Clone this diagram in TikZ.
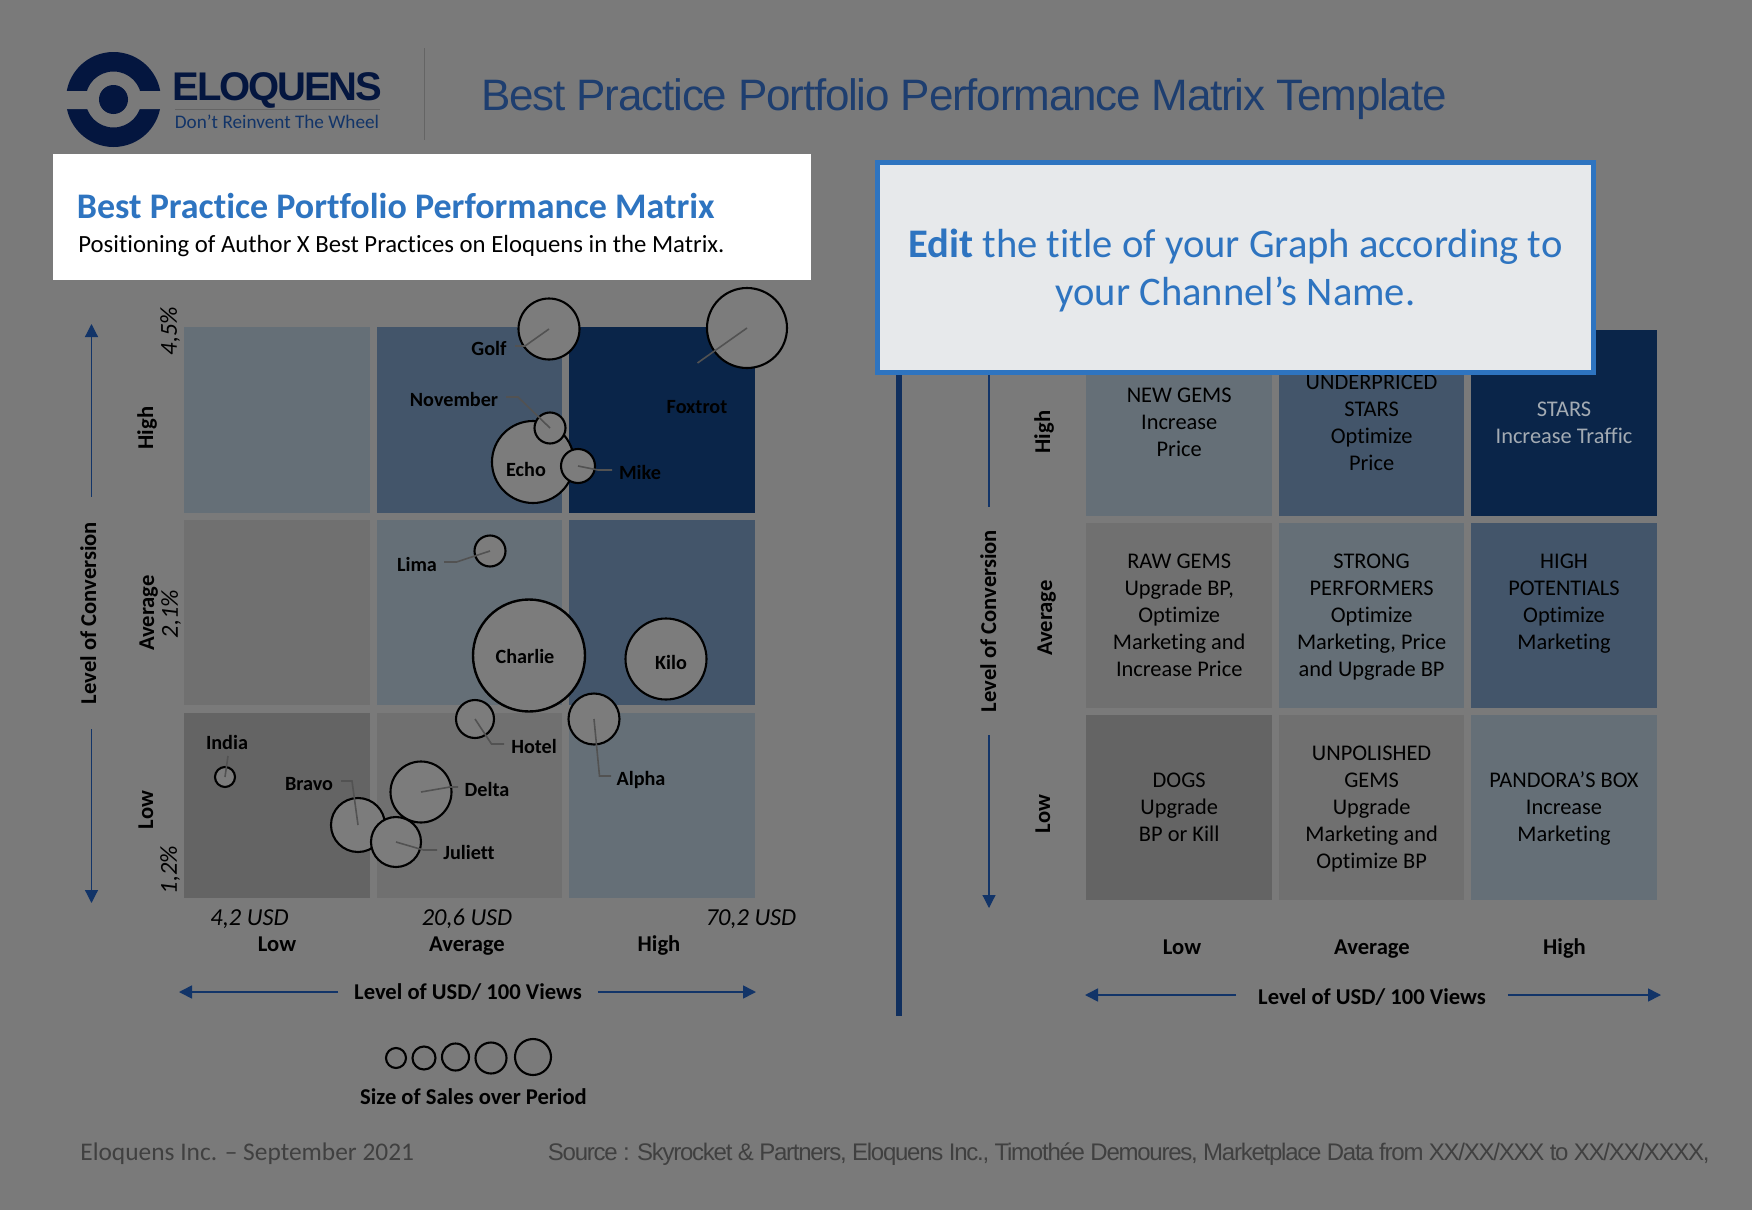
\documentclass[tikz,border=0pt]{standalone}
\usepackage{fontspec}
\setmainfont[Ligatures=NoCommon]{Carlito}
\newfontfamily\lightfont[LetterSpace=-2.75]{Liberation Sans}
\newfontfamily\sourcefont[LetterSpace=-5.2]{Liberation Sans}
\newfontfamily\logofont[LetterSpace=-5.5]{Liberation Sans}
\usetikzlibrary{matrix,arrows.meta}
\definecolor{pagebg}{HTML}{7A7A7A}
\definecolor{cellnavy}{HTML}{0A2549}
\definecolor{cellmid}{HTML}{43556A}
\definecolor{cellslate}{HTML}{656F77}
\definecolor{cellgray}{HTML}{707070}
\definecolor{cellshade}{HTML}{646464}
\definecolor{axisblue}{HTML}{123468}
\definecolor{titleblue}{HTML}{2E74C0}
\definecolor{logonavy}{HTML}{04163F}
\definecolor{bubblefill}{HTML}{7C7C7C}
\definecolor{notefill}{HTML}{E7E9EB}
\definecolor{starstext}{HTML}{A3ABB3}
\definecolor{leadergray}{HTML}{525252}
\definecolor{rulegray}{HTML}{646464}
\definecolor{footgray}{HTML}{404040}
\newcommand{\celltop}{\rule{0pt}{11pt}}
\tikzset{
	cellbox/.style  = {shape=rectangle, inner sep=0pt, outer sep=0pt, anchor=center,
		minimum width=92.8pt, minimum height=92.6pt, align=center,
		font=\fontsize{11.2}{13.5}\selectfont},
	navybox/.style  = {cellbox, fill=cellnavy},
	midbox/.style   = {cellbox, fill=cellmid},
	slatebox/.style = {cellbox, fill=cellslate},
	graybox/.style  = {cellbox, fill=cellgray},
	shadebox/.style = {cellbox, fill=cellshade},
	bubble/.style   = {circle, draw=black, line width=1.05pt, fill=bubblefill, inner sep=0pt},
	tag/.style      = {font=\bfseries\fontsize{10.1}{12}\selectfont, inner sep=1.5pt},
	axislabel/.style= {font=\bfseries\fontsize{11.3}{13}\selectfont, inner sep=0pt,
		text height=0.72em, text depth=0.22em},
	ticklabel/.style= {font=\itshape\fontsize{12.2}{14}\selectfont, inner sep=0pt},
	leader/.style   = {draw=leadergray, line width=0.8pt},
	axisline/.style = {draw=axisblue, line width=0.6pt, -{Triangle[length=6.5pt,width=6.5pt]}}
}
\begin{document}
\begin{tikzpicture}[x=0.5pt,y=-0.5pt]
	\useasboundingbox (0,0) rectangle (1752,1210);
	\fill[pagebg] (0,0) rectangle (1752,1210);

	% logo and header
	\fill[logonavy, even odd rule] (113.5,99.5) circle[radius=47.5] (113.5,99.5) circle[radius=28];
	\fill[pagebg] (60,91) rectangle (90,109) (137,91) rectangle (167,109);
	\fill[logonavy] (113.5,99.5) circle[radius=14.5];
	\node[font=\logofont\bfseries\fontsize{20}{22}\selectfont, text=logonavy, inner sep=0pt] (logoname) at (277.5,90) {ELOQUENS};
	\draw[rulegray, line width=0.8pt] (175,109.5) -- (380,109.5);
	\node[font=\fontsize{9.6}{12}\selectfont, text=axisblue, inner sep=0pt] (logotag) at (277,121.5) {Don’t Reinvent The Wheel};
	\draw[rulegray, line width=0.6pt] (424.5,48) -- (424.5,140);
	\node[font=\lightfont\fontsize{22}{26}\selectfont, text=axisblue!95!white, inner sep=0pt] (pagetitle) at (964,99.5) {Best Practice Portfolio Performance Matrix Template};

	% white title box
	\fill[white] (53,154) rectangle (811,280);
	\node[font=\bfseries\fontsize{18}{20}\selectfont, text=titleblue, inner sep=0pt, anchor=west] (boxtitle) at (76.5,206) {Best Practice Portfolio Performance Matrix};
	\node[font=\fontsize{12.37}{14}\selectfont, text=black, inner sep=0pt, anchor=west] (boxsub) at (78,246.5) {Positioning of Author X Best Practices on Eloquens in the Matrix.};

	% left matrix
	\matrix (leftgrid) at (184,327)
	[
	matrix of nodes,
	nodes in empty cells,
	anchor=north west,
	inner sep=0pt,
	column sep = 3.4pt,
	row sep    = 3.75pt
	]
	{
	|[slatebox]| {} & |[midbox]| {}   & |[navybox]| {} \\
	|[graybox]| {}  & |[slatebox]| {} & |[midbox]| {}  \\
	|[shadebox]| {} & |[graybox]| {}  & |[slatebox]| {} \\
	};

	% left axes
	\node[axislabel, rotate=90, outer sep=12.5pt] (convleft) at (91,613) {Level of Conversion};
	\coordinate (convlefttop) at (91.5,324);
	\coordinate (convleftbot) at (91.5,903);
	\draw[axisline] (convleft.east -| convlefttop) -- (convlefttop);
	\draw[axisline] (convleft.west -| convleftbot) -- (convleftbot);
	\node[axislabel, rotate=90] (highleft) at (148,428) {High};
	\node[axislabel, rotate=90] (avgleft) at (149,613) {Average};
	\node[axislabel, rotate=90] (lowleft) at (148,810) {Low};
	\node[ticklabel, rotate=90] (tickhigh) at (170,331) {4,5\%};
	\node[ticklabel, rotate=90] (tickmid) at (171,614) {2,1\%};
	\node[ticklabel, rotate=90] (ticklow) at (170,870) {1,2\%};
	\node[ticklabel] (usdlow) at (249.5,919) {4,2 USD};
	\node[ticklabel] (usdmid) at (467,919) {20,6 USD};
	\node[ticklabel] (usdhigh) at (751,919) {70,2 USD};
	\node[axislabel] (collow) at (277,946) {Low};
	\node[axislabel] (colavg) at (467,946) {Average};
	\node[axislabel] (colhigh) at (659,946) {High};
	\node[axislabel, outer sep=8pt] (usdleft) at (468,994) {Level of USD/ 100 Views};
	\coordinate (usdleftmin) at (179,992);
	\coordinate (usdleftmax) at (756,992);
	\draw[axisline, line width=0.8pt] (usdleft.west |- usdleftmin) -- (usdleftmin);
	\draw[axisline, line width=0.8pt] (usdleft.east |- usdleftmax) -- (usdleftmax);

	% bubbles
	\node[bubble, minimum size=30.5pt] (golf) at (549,329) {};
	\node[bubble, minimum size=40pt] (foxtrot) at (747,328) {};
	\node[bubble, minimum size=41pt] (echo) at (533,462) {};
	\node[bubble, minimum size=15.5pt] (november) at (550,428) {};
	\node[bubble, minimum size=17pt] (mike) at (578,466) {};
	\node[bubble, minimum size=15.5pt] (lima) at (490,551) {};
	\node[bubble, minimum size=19pt] (hotel) at (475,719) {};
	\node[bubble, minimum size=56pt, line width=1.2pt] (charlie) at (529,655.5) {};
	\node[bubble, minimum size=40.5pt] (kilo) at (666,659) {};
	\node[bubble, minimum size=25.5pt] (alpha) at (594,719) {};
	\node[bubble, minimum size=10pt] (india) at (225,777) {};
	\node[bubble, minimum size=27pt] (bravo) at (358,825) {};
	\node[bubble, minimum size=30.5pt] (delta) at (421,792) {};
	\node[bubble, minimum size=25pt] (juliett) at (396,842) {};

	% bubble names
	\node[tag] (golftag) at (489,348) {Golf};
	\node[tag] (novembertag) at (454,399) {November};
	\node[tag] (foxtrottag) at (697,407) {Foxtrot};
	\node[tag] (echotag) at (526,469) {Echo};
	\node[tag] (miketag) at (640,472) {Mike};
	\node[tag] (limatag) at (417,564) {Lima};
	\node[tag] (charlietag) at (525,656) {Charlie};
	\node[tag] (kilotag) at (671,662) {Kilo};
	\node[tag] (indiatag) at (227,742) {India};
	\node[tag] (bravotag) at (309,784) {Bravo};
	\node[tag] (deltatag) at (487,789) {Delta};
	\node[tag] (juliettag) at (469,852) {Juliett};
	\node[tag] (hoteltag) at (534,746) {Hotel};
	\node[tag] (alphatag) at (641,780) {Alpha};

	% leader lines
	\coordinate (foxtrotend) at (697.5,363);
	\draw[leader] (golf.center) -- (525,346) -- (515,346);
	\draw[leader] (foxtrot.center) -- (foxtrotend);
	\draw[leader] (november.center) -- (518,397) -- (506,397);
	\draw[leader] (mike.center) -- (598,470) -- (612,470);
	\draw[leader] (lima.center) -- (456.5,562) -- (444,562);
	\draw[leader] (hotel.center) -- (491.5,744) -- (504,744);
	\draw[leader] (alpha.center) -- (599.5,776) -- (611,776);
	\draw[leader] (india.center) -- (228,756);
	\draw[leader] (bravo.center) -- (352,781) -- (341,781);
	\draw[leader] (delta.center) -- (450,787) -- (458,787);
	\draw[leader] (juliett.center) -- (423.5,850) -- (437,850);

	% size legend
	\node[bubble, minimum size=10pt, fill=none] (sizea) at (396,1058) {};
	\node[bubble, minimum size=11.5pt, fill=none] (sizeb) at (424,1058) {};
	\node[bubble, minimum size=13.5pt, fill=none] (sizec) at (455.5,1057) {};
	\node[bubble, minimum size=15.5pt, fill=none] (sized) at (491,1058) {};
	\node[bubble, minimum size=18pt, fill=none] (sizee) at (533,1057) {};
	\node[axislabel] (sizetag) at (473.5,1099) {Size of Sales over Period};

	% right matrix
	\draw[axisblue!90!black, line width=3.3pt] (899,340) -- (899,1016);
	\matrix (rightgrid) at (1086,330)
	[
	anchor=north west,
	inner sep=0pt,
	column sep = 3.4pt,
	row sep    = 3.6pt
	]
	{
	\node[slatebox] (newgems) {\celltop NEW GEMS\\Increase\\Price\strut}; &
	\node[midbox] (underpriced) {\celltop UNDERPRICED\\STARS\\Optimize\\Price\strut}; &
	\node[navybox, text=starstext] (stars) {\celltop STARS\\Increase Traffic\strut}; \\
	\node[graybox] (rawgems) {\celltop RAW GEMS\\Upgrade BP,\\Optimize\\Marketing and\\Increase Price\strut}; &
	\node[slatebox] (strong) {\celltop STRONG\\PERFORMERS\\Optimize\\Marketing, Price\\and Upgrade BP\strut}; &
	\node[midbox] (potentials) {\celltop HIGH\\POTENTIALS\\Optimize\\Marketing\\\strut}; \\
	\node[shadebox] (dogs) {\celltop DOGS\\Upgrade\\BP or Kill\strut}; &
	\node[graybox] (unpolished) {\celltop UNPOLISHED\\GEMS\\Upgrade\\Marketing and\\Optimize BP\strut}; &
	\node[slatebox] (pandora) {\celltop PANDORA’S BOX\\Increase\\Marketing\strut}; \\
	};

	% right axes
	\node[axislabel, rotate=90, outer sep=11.5pt] (convright) at (991,621) {Level of Conversion};
	\coordinate (convrighttop) at (989,335);
	\coordinate (convrightbot) at (989,908);
	\draw[axisline] (convright.east -| convrighttop) -- (convrighttop);
	\draw[axisline] (convright.west -| convrightbot) -- (convrightbot);
	\node[axislabel, rotate=90] (highright) at (1045,432) {High};
	\node[axislabel, rotate=90] (avgright) at (1047,618) {Average};
	\node[axislabel, rotate=90] (lowright) at (1045,814) {Low};
	\node[axislabel] (collowr) at (1182,949) {Low};
	\node[axislabel] (colavgr) at (1372,949) {Average};
	\node[axislabel] (colhighr) at (1564.5,949) {High};
	\node[axislabel, outer sep=11pt] (usdright) at (1372,999) {Level of USD/ 100 Views};
	\coordinate (usdrightmin) at (1085,995);
	\coordinate (usdrightmax) at (1661,995);
	\draw[axisline, line width=0.8pt] (usdright.west |- usdrightmin) -- (usdrightmin);
	\draw[axisline, line width=0.8pt] (usdright.east |- usdrightmax) -- (usdrightmax);

	% edit note
	\node[shape=rectangle, draw=titleblue, line width=2.6pt, fill=notefill, inner sep=0pt,
		minimum width=358pt, minimum height=105pt, align=center,
		font=\fontsize{20.3}{24}\selectfont, text=titleblue] (editnote) at (1235.5,267.5)
		{\rule{0pt}{17.5pt}\textbf{Edit} the title of your Graph according to\\your Channel’s Name.};

	% footer
	\node[font=\fontsize{12.7}{15}\selectfont, text=footgray, inner sep=0pt, anchor=west] (footleft) at (80,1154) {Eloquens Inc. – September 2021};
	\node[font=\sourcefont\fontsize{12}{14}\selectfont, text=footgray, inner sep=0pt, anchor=east] (footright) at (1710,1154) {Source : Skyrocket \& Partners, Eloquens Inc., Timothée Demoures, Marketplace Data from XX/XX/XXX to XX/XX/XXXX,};
\end{tikzpicture}
\end{document}
